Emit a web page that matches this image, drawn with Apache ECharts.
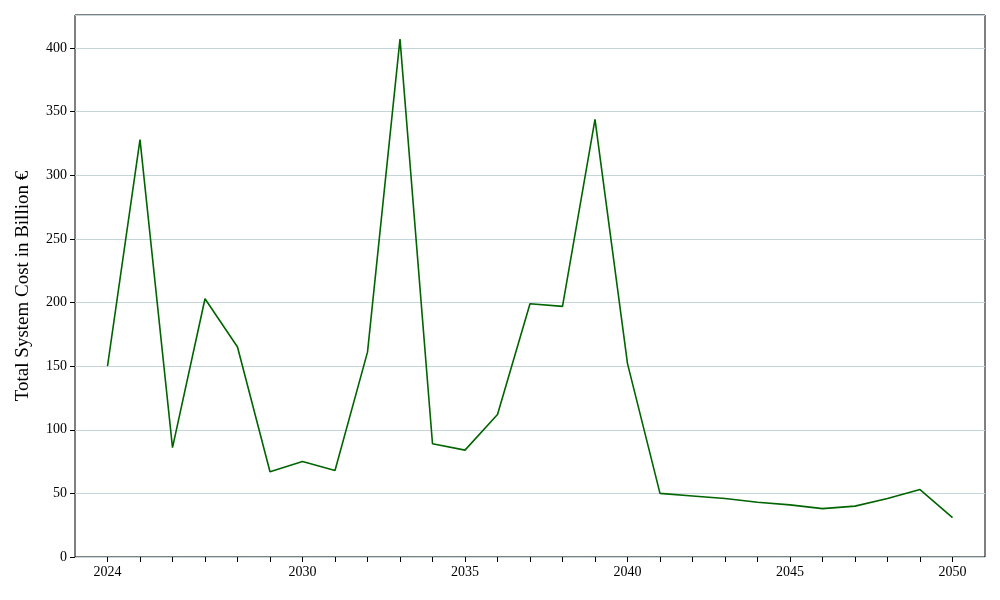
<!DOCTYPE html>
<html><head><meta charset="utf-8">
<script src="https://cdn.jsdelivr.net/npm/echarts@6/dist/echarts.min.js"></script>
<style>html,body{margin:0;padding:0}#c{width:1000px;height:600px}</style>
</head><body><div id="c"></div>
<script>
var years = [2024,2025,2026,2027,2028,2029,2030,2031,2032,2033,2034,2035,2036,2037,2038,2039,2040,2041,2042,2043,2044,2045,2046,2047,2048,2049,2050];
var costs = [150,328,86,203,165,67,75,68,161,407,89,84,112,199,197,344,152,50,48,46,43,41,38,40,46,53,31];
var shownYears = [2024,2030,2035,2040,2045,2050];

var font = 'Liberation Serif';
var myChart = echarts.init(document.getElementById('c'));
var option = {
    animation: false,
    grid: { left: 75, right: 15, top: 15, bottom: 43, show: true, borderColor: '#000', borderWidth: 1 },
    xAxis: {
        type: 'value', min: 2023, max: 2051, interval: 1,
        axisLine: { show: false },
        axisTick: { show: true, length: 5, lineStyle: { color: '#000' } },
        splitLine: { show: false },
        axisLabel: {
            color: '#000', fontFamily: font, fontSize: 14,
            formatter: function (v) { return shownYears.indexOf(v) >= 0 ? String(v) : ''; },
            showMinLabel: false, showMaxLabel: false
        }
    },
    yAxis: {
        type: 'value', min: 0, max: 426, interval: 50,
        name: 'Total System Cost in Billion €', nameLocation: 'middle', nameGap: 42,
        nameTextStyle: { color: '#000', fontFamily: font, fontSize: 19 },
        axisLine: { show: false },
        axisTick: { show: true, length: 5, lineStyle: { color: '#000' } },
        splitLine: { show: true, lineStyle: { color: '#c5d5dc' } },
        axisLabel: { color: '#000', fontFamily: font, fontSize: 14, showMaxLabel: false }
    },
    series: [{
        type: 'line', symbol: 'none',
        lineStyle: { color: '#006400', width: 1.6 },
        data: years.map(function (y, i) { return [y, costs[i]]; })
    }]
};
myChart.setOption(option, true);
</script></body></html>
